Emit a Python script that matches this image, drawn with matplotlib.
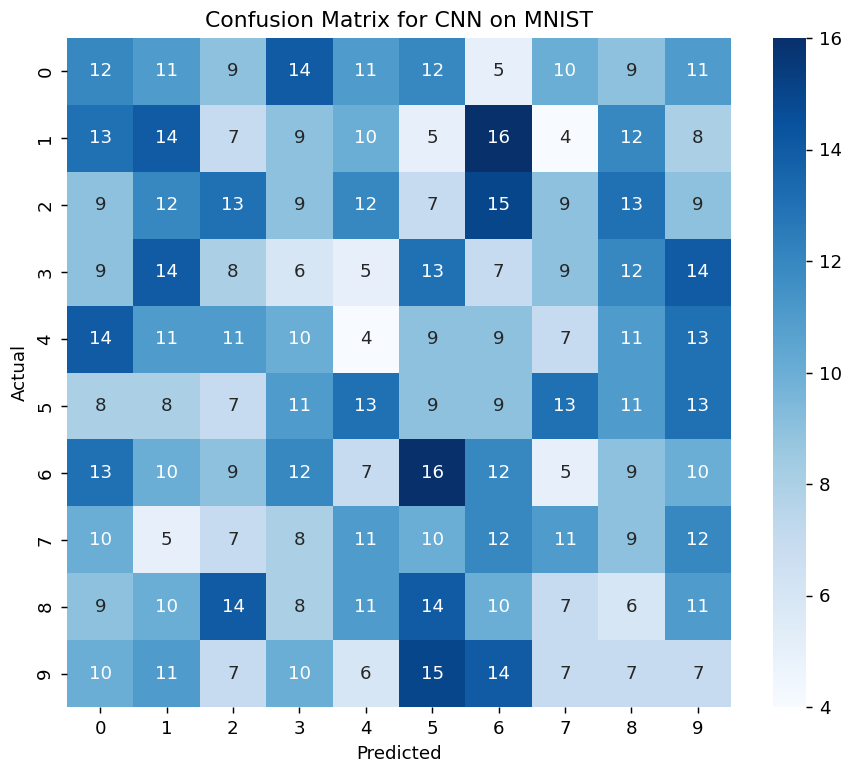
import numpy as np
import matplotlib
matplotlib.use("Agg")
import matplotlib.pyplot as plt
import seaborn as sns

labels = list(range(10))

row0 = [12, 11, 9, 14, 11, 12, 5, 10, 9, 11]
row1 = [13, 14, 7, 9, 10, 5, 16, 4, 12, 8]
row2 = [9, 12, 13, 9, 12, 7, 15, 9, 13, 9]
row3 = [9, 14, 8, 6, 5, 13, 7, 9, 12, 14]
row4 = [14, 11, 11, 10, 4, 9, 9, 7, 11, 13]
row5 = [8, 8, 7, 11, 13, 9, 9, 13, 11, 13]
row6 = [13, 10, 9, 12, 7, 16, 12, 5, 9, 10]
row7 = [10, 5, 7, 8, 11, 10, 12, 11, 9, 12]
row8 = [9, 10, 14, 8, 11, 14, 10, 7, 6, 11]
row9 = [10, 11, 7, 10, 6, 15, 14, 7, 7, 7]

cm = np.array([row0, row1, row2, row3, row4, row5, row6, row7, row8, row9])

W, H, DPI = 841, 766, 131
fig = plt.figure(figsize=(W / DPI, H / DPI), dpi=DPI)
ax = fig.add_axes([67/W, 1 - 707/H, (731 - 67)/W, (707 - 38)/H])
cax = fig.add_axes([773/W, 1 - 707/H, (806 - 773)/W, (707 - 38)/H])

sns.heatmap(cm, annot=True, fmt="d", cmap="Blues",
            xticklabels=labels, yticklabels=labels,
            ax=ax, cbar_ax=cax)

ax.set_title("Confusion Matrix for CNN on MNIST")
ax.set_xlabel("Predicted")
ax.set_ylabel("Actual")

fig.savefig("out.png", dpi=DPI)
